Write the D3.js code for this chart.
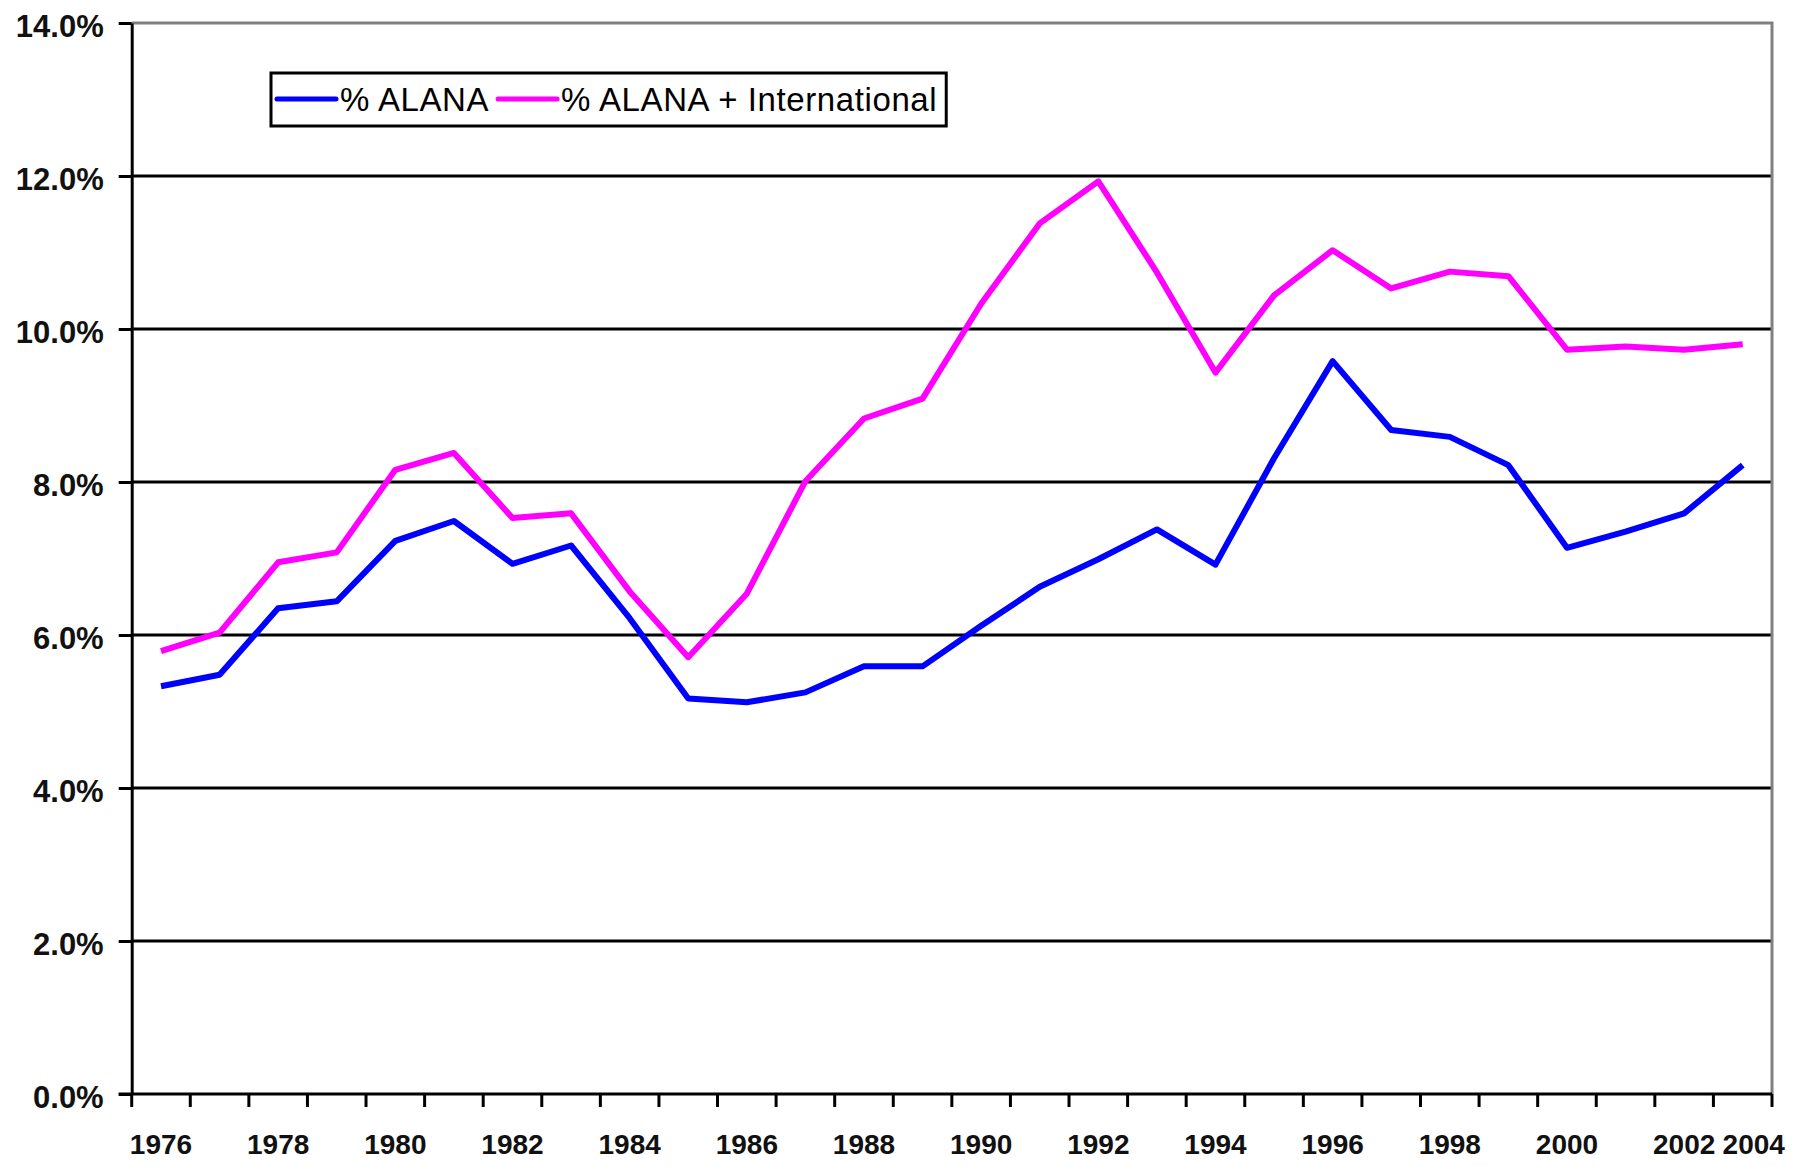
<!DOCTYPE html>
<html>
<head>
<meta charset="utf-8">
<script src="https://cdn.jsdelivr.net/npm/d3@7"></script>
<style>
  body { margin: 0; background: #fff; }
  svg { display: block; font-family: "Liberation Sans", Arial, sans-serif; }
</style>
</head>
<body>
<svg id="chart" width="1796" height="1167"></svg>
<script>
// Categories on the x axis (the source skips 2003).
const years = [1976, 1977, 1978, 1979, 1980, 1981, 1982, 1983, 1984, 1985,
  1986, 1987, 1988, 1989, 1990, 1991, 1992, 1993, 1994, 1995,
  1996, 1997, 1998, 1999, 2000, 2001, 2002, 2004];

// Series values, in percent.
const alana = [5.33, 5.48, 6.35, 6.44, 7.23, 7.49, 6.93, 7.17, 6.22, 5.17,
  5.12, 5.25, 5.59, 5.59, 6.12, 6.63, 6.99, 7.38, 6.92, 8.31,
  9.58, 8.68, 8.59, 8.22, 7.14, 7.35, 7.59, 8.22];
const alanaIntl = [5.79, 6.03, 6.95, 7.08, 8.16, 8.38, 7.53, 7.59, 6.57, 5.71,
  6.54, 8.01, 8.83, 9.09, 10.33, 11.38, 11.93, 10.74, 9.43, 10.44,
  11.03, 10.53, 10.75, 10.69, 9.73, 9.77, 9.73, 9.80];

// Axis labels.
const yTicks = [0, 2, 4, 6, 8, 10, 12, 14];
const xTickLabels = ["1976", "1978", "1980", "1982", "1984", "1986", "1988",
  "1990", "1992", "1994", "1996", "1998", "2000", "2002", "2004"];

const seriesNames = ["% ALANA", "% ALANA + International"];
const seriesColors = ["#0000ff", "#ff00ff"];

(function () {
  let svg = d3.select("#chart");
  let left = 131.7, right = 1772, top = 23, bottom = 1094;

  let x = d3.scaleBand().domain(years).range([left, right]).padding(0);
  let y = d3.scaleLinear().domain([0, 14]).range([bottom, top]);

  // Horizontal gridlines (the top one is the grey plot border).
  svg.append("g")
    .selectAll("line")
    .data(yTicks.filter((d) => d > 0 && d < 14))
    .enter()
    .append("line")
    .attr("x1", left)
    .attr("x2", right)
    .attr("y1", (d) => y(d))
    .attr("y2", (d) => y(d))
    .attr("stroke", "#000")
    .attr("stroke-width", 3);

  // Grey plot-area border on top and right.
  svg.append("path")
    .attr("d", `M${left},${y(14)}H${right}V${y(0)}`)
    .attr("fill", "none")
    .attr("stroke", "#808080")
    .attr("stroke-width", 3);

  // Series lines.
  let series = [alana, alanaIntl];
  let line = d3.line()
    .x((d, i) => x(years[i]) + x.bandwidth() / 2)
    .y((d) => y(d));

  svg.append("g")
    .selectAll("path")
    .data(series)
    .enter()
    .append("path")
    .attr("d", line)
    .attr("fill", "none")
    .attr("stroke", (d, i) => seriesColors[i])
    .attr("stroke-width", 6)
    .attr("stroke-linejoin", "round");

  // Y axis.
  let yAxis = svg.append("g")
    .attr("transform", `translate(${left},0)`)
    .call(d3.axisLeft(y)
      .tickValues(yTicks)
      .tickSize(13)
      .tickSizeOuter(0)
      .tickPadding(15)
      .tickFormat((d) => d.toFixed(1) + "%"));
  yAxis.select(".domain").attr("stroke", "#000").attr("stroke-width", 3);
  yAxis.selectAll(".tick line").attr("stroke", "#000").attr("stroke-width", 3);
  yAxis.selectAll(".tick text")
    .attr("dy", "0.43em")
    .attr("fill", "#111")
    .style("font-size", "31px")
    .style("font-weight", "bold")
    .style("font-family", '"Liberation Sans", Arial, sans-serif');

  // X axis line and category boundary ticks.
  svg.append("line")
    .attr("x1", left - 13)
    .attr("x2", right)
    .attr("y1", bottom)
    .attr("y2", bottom)
    .attr("stroke", "#000")
    .attr("stroke-width", 3);

  let bounds = years.map((d) => x(d)).concat([right]);
  svg.append("g")
    .selectAll("line")
    .data(bounds)
    .enter()
    .append("line")
    .attr("x1", (d) => d)
    .attr("x2", (d) => d)
    .attr("y1", bottom)
    .attr("y2", bottom + 13)
    .attr("stroke", "#000")
    .attr("stroke-width", 3);

  // X labels at category centres.
  let xAxis = svg.append("g")
    .attr("transform", `translate(0,${bottom})`)
    .call(d3.axisBottom(x)
      .tickValues(xTickLabels.map(Number))
      .tickSize(0)
      .tickPadding(40));
  xAxis.select(".domain").remove();
  xAxis.selectAll(".tick text")
    .attr("fill", "#111")
    .style("font-size", "28px")
    .style("font-weight", "bold")
    .style("font-family", '"Liberation Sans", Arial, sans-serif');
  // Last label sits a little right, as in the original, so it clears 2002.
  xAxis.selectAll(".tick text").filter((d) => d === 2004).attr("dx", 11);

  // Legend.
  let legend = svg.append("g");
  let box = legend.append("rect")
    .attr("x", 271)
    .attr("y", 73)
    .attr("height", 53)
    .attr("fill", "#fff")
    .attr("stroke", "#000")
    .attr("stroke-width", 3);

  let cx = 277;
  seriesNames.forEach((name, i) => {
    legend.append("line")
      .attr("x1", cx)
      .attr("x2", cx + 59)
      .attr("y1", 99)
      .attr("y2", 99)
      .attr("stroke", seriesColors[i])
      .attr("stroke-width", 5)
      .attr("stroke-linecap", "round");
    let t = legend.append("text")
      .attr("x", cx + 63)
      .attr("y", 111)
      .attr("fill", "#000")
      .style("font-size", "33px")
      .style("letter-spacing", "0.6px")
      .text(name);
    cx += 63 + t.node().getComputedTextLength() + 9;
  });
  box.attr("width", cx - 271);
})();
</script>
</body>
</html>
